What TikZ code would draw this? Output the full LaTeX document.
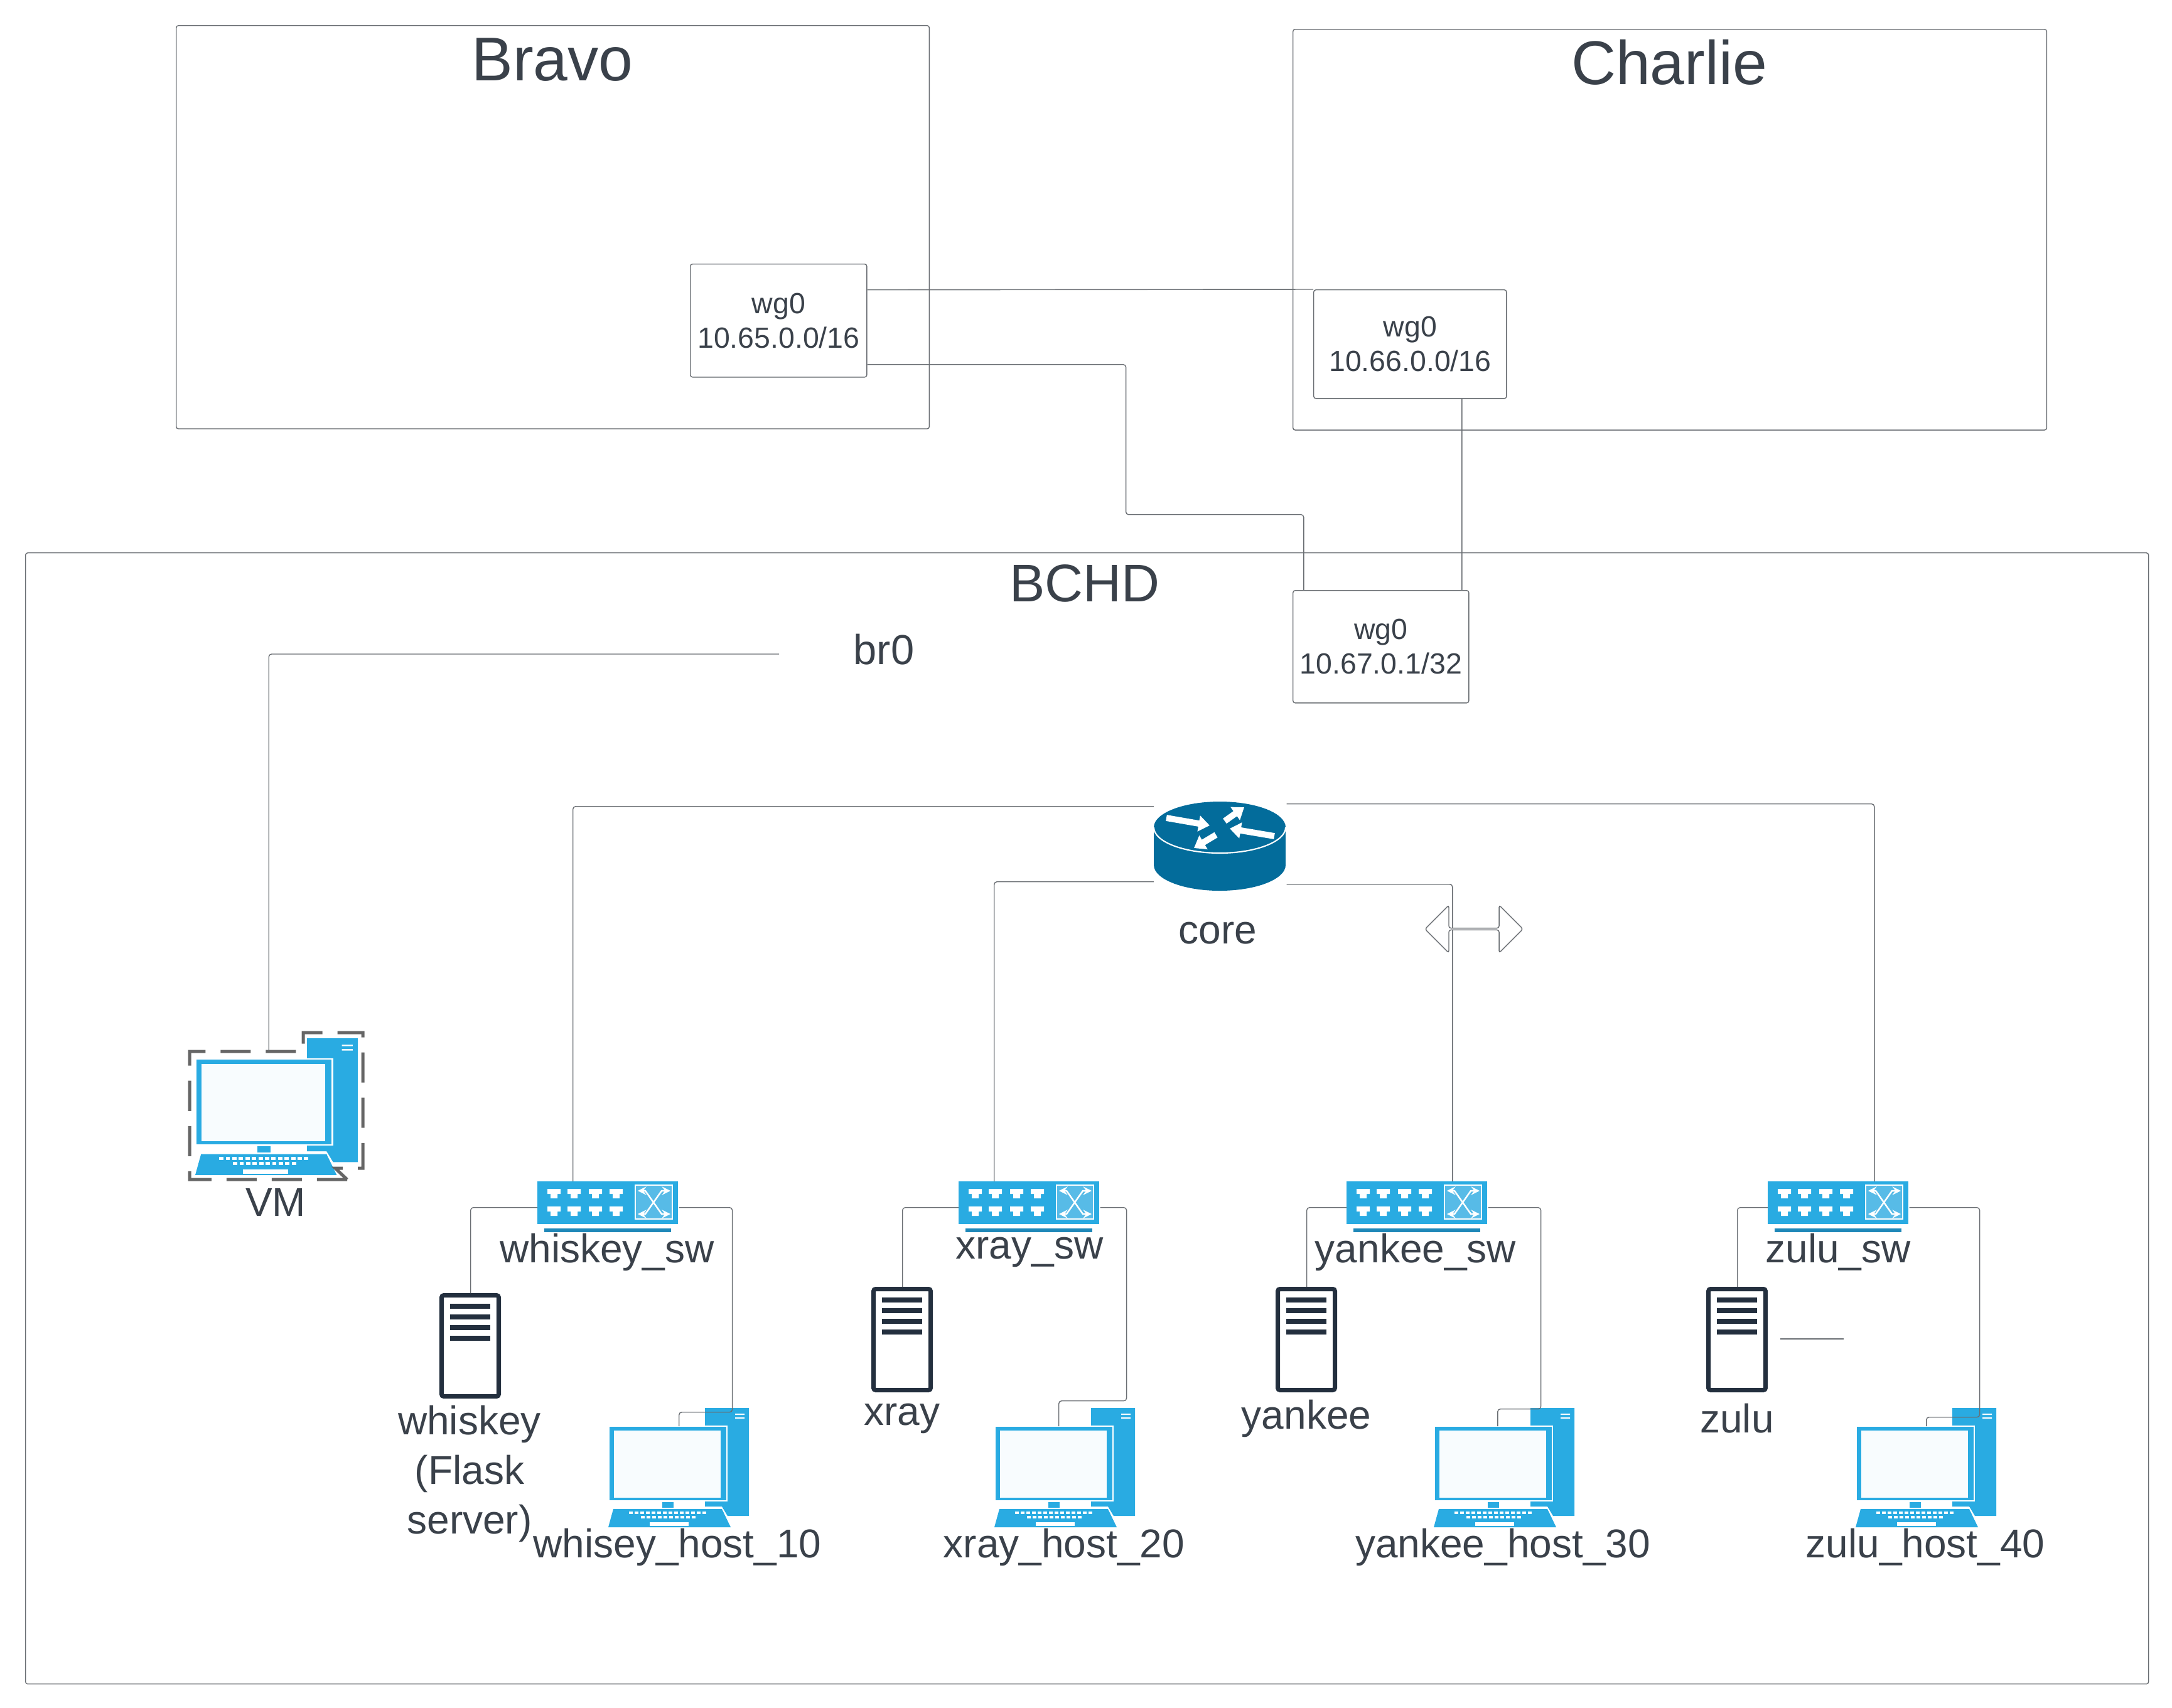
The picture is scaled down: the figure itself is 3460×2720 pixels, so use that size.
\documentclass[tikz,border=0pt]{standalone}
\usepackage{fontspec}
\setmainfont{Liberation Sans}
\usetikzlibrary{calc,shapes.arrows,arrows.meta}
\definecolor{txtgray}{HTML}{3A414A}
\definecolor{linegray}{HTML}{6A6E73}
\definecolor{iconblue}{HTML}{29ABE2}
\definecolor{barblue}{HTML}{1F88B8}
\definecolor{xblue}{HTML}{57BBE7}
\definecolor{screenwhite}{HTML}{F8FCFE}
\definecolor{routerblue}{HTML}{036C9B}
\definecolor{srvnavy}{HTML}{232F3E}
\definecolor{dashgray}{HTML}{666666}
\tikzset{
    box/.style={draw=linegray,line width=0.4pt,rounded corners=1pt,inner sep=0pt,anchor=north west,text=txtgray},
    wgbox/.style={box,align=center,font=\fontsize{13.2}{15.7}\selectfont},
    lbl/.style={text=txtgray,inner sep=0pt,align=center,font=\fontsize{18.2}{22.5}\selectfont},
    title/.style={text=txtgray,inner sep=0pt,font=\fontsize{28}{32}\selectfont},
    icon/.style={inner sep=0pt,anchor=north west},
    link/.style={draw=linegray,line width=0.4pt,rounded corners=1.2pt},
    hostpic/.pic={
        \fill[iconblue] (154,0) -- (224,0) -- (224,172) -- (190,172) -- (181,157) -- (154,157) -- cycle;
        \fill[white] (202,9) rectangle (217,11) (202,15) rectangle (217,17);
        \draw[white,line width=0.6pt,fill=iconblue] (1,29) rectangle (189,148);
        \fill[screenwhite] (9,36) rectangle (179,143);
        \fill[iconblue] (86,150) rectangle (104,159);
        \fill[iconblue] (8,161) -- (181,161) -- (195,190) -- (0,190) -- cycle;
        \foreach \k in {0,...,13} \fill[white] (33+\k*9,165) rectangle ++(6,4);
        \foreach \k in {0,...,9} \fill[white] (52+\k*9,172) rectangle ++(6,4);
        \fill[white] (66,182) rectangle (128,188);
    },
    swpic/.pic={
        \fill[iconblue] (0,0) rectangle (224,68);
        \fill[barblue] (11,75) rectangle (213,81);
        \foreach \x in {26,58,92,125} \foreach \y in {12,40}
            \fill[white] (\x-10,\y) -- ++(21,0) -- ++(0,8) -- ++(-5,0) -- ++(0,7) -- ++(-11,0) -- ++(0,-7) -- ++(-5,0) -- cycle;
        \draw[white,line width=0.5pt,fill=xblue] (156,6) rectangle (215,60);
        \draw[white,line width=0.7pt,<->,>=stealth] (160,15) -- (172,15) -- (198,52) -- (212,52);
        \draw[white,line width=0.7pt,<->,>=stealth] (212,15) -- (198,15) -- (172,52) -- (160,52);
    },
    srvpic/.pic={
        \draw[srvnavy,fill=white,line width=2pt,rounded corners=1pt] (3.5,3.5) rectangle (94.5,164.5);
        \foreach \y in {17,34,51,68} \fill[srvnavy] (17,\y) rectangle ++(64,7.5);
    },
}
\begin{document}
\begin{tikzpicture}[x=0.01cm,y=-0.01cm]
    \useasboundingbox (0,0) rectangle (3460,2720);
    \node[box,minimum width=11.99cm,minimum height=6.42cm] (bravo) at (280,40) {};
    \node[box,minimum width=12cm,minimum height=6.38cm] (charlie) at (2059,46) {};
    \node[box,minimum width=33.8cm,minimum height=18.01cm] (bchd) at (40,880) {};
    \node[title] (bravo_lbl) at (880,95) {Bravo};
    \node[title] (charlie_lbl) at (2659,99) {Charlie};
    \node[title,font=\fontsize{24}{28}\selectfont] (bchd_lbl) at (1728,929) {BCHD};
    \node[wgbox,minimum width=2.81cm,minimum height=1.8cm] (bravo_wg0) at (1099,420) {wg0\\10.65.0.0/16};
    \node[wgbox,minimum width=3.07cm,minimum height=1.73cm] (charlie_wg0) at (2092,461) {wg0\\10.66.0.0/16};
    \node[wgbox,minimum width=2.8cm,minimum height=1.79cm] (bchd_wg0) at (2059,940) {wg0\\10.67.0.1/32};
    \node[lbl,font=\fontsize{19}{22}\selectfont,minimum width=3.32cm] (br0) at (1408,1035) {br0};

    \node[icon,minimum width=2.1cm,minimum height=1.42cm] (core) at (1838,1277) {};
    \fill[routerblue] (1943,1318) ellipse [x radius=105,y radius=41];
    \fill[routerblue] (1838,1318) rectangle (2048,1378);
    \fill[routerblue] (1943,1378) ellipse [x radius=105,y radius=41];
    \draw[white,line width=0.6pt] (1838,1318) arc [start angle=180,end angle=0,x radius=105,y radius=41];
    \draw[white,line width=2.8pt,-{Triangle[length=5pt,width=7pt]}] (1858,1303) -- (1927,1315);
    \draw[white,line width=2.8pt,-{Triangle[length=5pt,width=7pt]}] (1951,1308) -- (1982,1286);
    \draw[white,line width=2.8pt,-{Triangle[length=5pt,width=7pt]}] (2030,1332) -- (1959,1320);
    \draw[white,line width=2.8pt,-{Triangle[length=5pt,width=7pt]}] (1937,1330) -- (1902,1351);
    \node[lbl] (core_lbl) at (1940,1487) {core};

    \foreach \n/\x in {whiskey_sw/856,xray_sw/1527,yankee_sw/2145,zulu_sw/2816} {
        \node[icon,minimum width=2.24cm,minimum height=0.68cm] (\n) at (\x,1882) {};
        \pic at (\n.north west) {swpic};
    }
    \foreach \n/\x/\y in {whiskey/700/2060,xray/1388/2050,yankee/2032/2050,zulu/2718/2050} {
        \node[icon,minimum width=0.98cm,minimum height=1.68cm] (\n) at (\x,\y) {};
        \pic at (\n.north west) {srvpic};
    }
    \foreach \n/\x in {whiskey_host/969,xray_host/1584,yankee_host/2284,zulu_host/2956} {
        \node[icon,minimum width=2.24cm,minimum height=1.9cm] (\n) at (\x,2243) {};
        \pic at (\n.north west) {hostpic};
    }
    \node[icon,minimum width=2.59cm,minimum height=2.18cm] (vm) at (311,1654) {};
    \pic[xscale=1.156,yscale=1.147] at (vm.north west) {hostpic};
    \draw[dashgray,line width=1.42pt,dash pattern=on 13.66pt off 6.83pt] (553,1879) -- (302,1879) -- (302,1675) -- (483,1675) -- (483,1645) -- (578,1645) -- (578,1861) -- (534,1861) -- cycle;

    \node[lbl] (vm_lbl) at (439,1915) {VM};
    \node[lbl] (whiskey_sw_lbl) at (967,1995) {whiskey\_sw};
    \node[lbl] (xray_sw_lbl) at (1640,1995) {xray\_sw};
    \node[lbl] (yankee_sw_lbl) at (2255,1995) {yankee\_sw};
    \node[lbl] (zulu_sw_lbl) at (2928,1995) {zulu\_sw};
    \node[lbl] (whiskey_lbl) at (748,2348) {whiskey\\(Flask\\server)};
    \node[lbl] (xray_lbl) at (1437,2260) {xray};
    \node[lbl] (yankee_lbl) at (2081,2260) {yankee};
    \node[lbl] (zulu_lbl) at (2767,2260) {zulu};
    \node[lbl] (whiskey_host_lbl) at (1079,2465) {whisey\_host\_10};
    \node[lbl] (xray_host_lbl) at (1695,2465) {xray\_host\_20};
    \node[lbl] (yankee_host_lbl) at (2394,2465) {yankee\_host\_30};
    \node[lbl] (zulu_host_lbl) at (3067,2465) {zulu\_host\_40};

    \draw[link] ($(bravo_wg0.east)+(0,-49)$) -- (charlie_wg0.north west);
    \draw[link] ($(bravo_wg0.east)+(0,70)$) -| ++(412,239) -| ($(bchd_wg0.north)+(-123,0)$);
    \draw[link] ($(charlie_wg0.south)+(82.5,0)$) -- ($(bchd_wg0.north)+(129,0)$);
    \draw[link] ($(br0.west)+(0,7)$) -| ($(vm.north)+(-13,21)$);
    \draw[link] ($(core.west)+(0,-64)$) -| ($(whiskey_sw.north)+(-56,0)$);
    \draw[link] ($(core.west)+(0,56)$) -| ($(xray_sw.north)+(-56,0)$);
    \draw[link] ($(core.east)+(0,60)$) -| ($(yankee_sw.north)+(56,0)$);
    \draw[link] ($(core.east)+(0,-68)$) -| ($(zulu_sw.north)+(57,0)$);
    \foreach \s/\t in {whiskey_sw/whiskey,xray_sw/xray,yankee_sw/yankee,zulu_sw/zulu}
        \draw[link] ($(\s.west)+(0,7)$) -| (\t.north);
    \foreach \s/\t/\dx/\dy/\off in {whiskey_sw/whiskey_host/85/326/0,xray_sw/xray_host/42/308/-10,yankee_sw/yankee_host/84/321/-11,zulu_sw/zulu_host/112/334/0}
        \draw[link] ($(\s.east)+(0,7)$) -| ++(\dx,\dy) -| ($(\t.north)+(\off,29)$);
    \coordinate (zulu_stub_a) at (2836,2133);
    \coordinate (zulu_stub_b) at (2937,2133);
    \draw[link] (zulu_stub_a) -- (zulu_stub_b);
    \node[draw=linegray,fill=white,line width=0.4pt,rounded corners=1pt,double arrow,double arrow tip angle=90,double arrow head extend=0.185cm,minimum height=1.56cm,minimum width=0.76cm,inner sep=0pt] (xfer) at (2348,1480) {};
\end{tikzpicture}
\end{document}
